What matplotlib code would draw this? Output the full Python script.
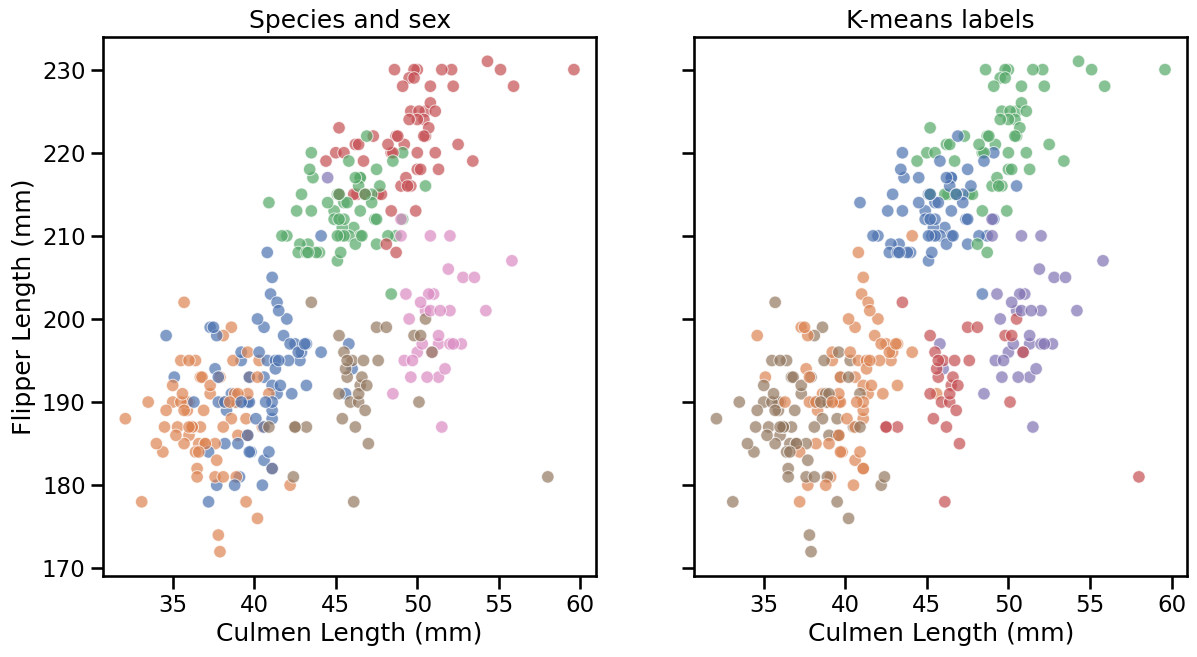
import numpy as np
import pandas as pd
import matplotlib
matplotlib.use("Agg")
import matplotlib.pyplot as plt
import seaborn as sns

# Adelie (rows with missing sex left out)
adelie_culmen = [
    39.1, 39.5, 40.3, 36.7, 39.3, 38.9, 39.2, 41.1, 38.6, 34.6, 36.6, 38.7, 42.5, 34.4, 46.0, 37.8,
    37.7, 35.9, 38.2, 38.8, 35.3, 40.6, 40.5, 37.9, 40.5, 39.5, 37.2, 39.5, 40.9, 36.4, 39.2, 38.8,
    42.2, 37.6, 39.8, 36.5, 40.8, 36.0, 44.1, 37.0, 39.6, 41.1, 36.0, 42.3,
    39.6, 40.1, 35.0, 42.0, 34.5, 41.4, 39.0, 40.6, 36.5, 37.6, 35.7, 41.3, 37.6, 41.1, 36.4, 41.6, 35.5, 41.1,
    35.9, 41.8, 33.5, 39.7, 39.6, 45.8, 35.5, 42.8, 40.9, 37.2, 36.2, 42.1, 34.6, 42.9, 36.7, 35.1,
    37.3, 41.3, 36.3, 36.9, 38.3, 38.9, 35.7, 41.1, 34.0, 39.6, 36.2, 40.8, 38.1, 40.3, 33.1, 43.2,
    35.0, 41.0, 37.7, 37.8, 37.9, 39.7, 38.6, 38.2, 38.1, 43.2, 38.1, 45.6, 39.7, 42.2, 39.6, 42.7,
    38.6, 37.3, 35.7, 41.1, 36.2, 37.7, 40.2, 41.4, 35.2, 40.6, 38.8, 41.5, 39.0, 44.1, 38.5, 43.1,
    36.8, 37.5, 38.1, 41.1, 35.6, 40.2, 37.0, 39.7, 40.2, 40.6, 32.1, 40.7, 37.3, 39.0, 39.2, 36.6,
    36.0, 37.8, 36.0, 41.5,
]
adelie_flipper = [
    181, 186, 195, 193, 190, 181, 195, 182, 191, 198, 185, 195, 197, 184, 194, 174,
    180, 189, 185, 180, 187, 183, 187, 172, 180, 178, 178, 188, 184, 195, 196, 190,
    180, 181, 184, 182, 195, 186, 196, 185, 190, 182, 190, 191,
    186, 188, 190, 200, 187, 191, 186, 193, 181, 194, 185, 195, 185, 192, 184, 192, 195, 188,
    190, 198, 190, 190, 196, 197, 190, 195, 191, 184, 187, 195, 189, 196, 187, 193,
    191, 194, 190, 189, 189, 190, 202, 205, 185, 186, 187, 208, 190, 196, 178, 192,
    192, 203, 183, 190, 193, 184, 199, 190, 181, 197, 198, 191, 193, 197, 191, 196,
    188, 199, 189, 189, 187, 198, 176, 202, 186, 199, 191, 195, 191, 210, 190, 197,
    193, 199, 187, 190, 191, 200, 185, 193, 193, 187, 188, 190, 192, 185, 190, 184,
    195, 193, 187, 201,
]
adelie_sex = (
    "M F F F M F M F M M F F M F M F "
    "M F M M F M F F M F M F M F M M "
    "F F M F M F M F M M F M "
    "F M F M F M F M F M F M F M F M F M "
    "F M F M F M F M F M F M F M F M "
    "F M M F M F F M F M F M F M F M "
    "F M F M F M F M F M F M F M F M "
    "F M F M F M F M F M F M F M F M "
    "F M F M F M F M F M F M F M M F "
    "F M F M"
).split()
adelie_cluster = [
    1, 5, 5, 5, 1, 5, 1, 1, 1, 1, 5, 5, 1, 5, 4, 5,
    1, 5, 1, 1, 5, 1, 5, 5, 1, 5, 1, 5, 1, 5, 1, 1,
    5, 5, 1, 5, 1, 5, 1, 5, 1, 1, 5, 1,
    5, 1, 5, 1, 5, 1, 5, 1, 5, 1, 5, 1, 5, 1, 5, 1, 5, 1,
    5, 1, 5, 1, 5, 4, 5, 1, 5, 1, 5, 1, 5, 1, 5, 1,
    5, 1, 1, 5, 1, 5, 5, 1, 5, 1, 5, 1, 5, 1, 5, 1,
    5, 1, 5, 1, 5, 1, 5, 1, 5, 1, 5, 1, 5, 1, 1, 1,
    5, 1, 5, 1, 5, 1, 5, 1, 5, 1, 5, 1, 5, 1, 5, 1,
    5, 1, 5, 1, 5, 1, 5, 1, 5, 1, 5, 1, 5, 1, 1, 5,
    5, 1, 5, 1,
]

# Gentoo
gentoo_culmen = [
    46.1, 50.0, 48.7, 50.0, 47.6, 46.5, 45.4, 46.7, 43.3, 46.8, 40.9, 49.0, 45.5, 48.4, 45.8, 49.3,
    42.0, 49.2, 46.2, 48.7, 50.2, 45.1, 46.5, 46.3, 42.9, 46.1,
    47.8, 48.2, 50.0, 47.3, 42.8, 45.1, 59.6, 49.1, 48.4, 42.6, 44.4, 44.0, 48.7, 42.7, 49.6, 45.3,
    49.6, 50.5, 43.6, 45.5, 50.5, 44.9, 45.2, 46.6, 48.5, 45.1, 50.1, 46.5, 45.0, 43.8, 45.5, 43.2,
    50.4, 45.3, 46.2, 45.7, 54.3, 45.8, 49.8,
    49.5, 43.5, 50.7, 47.7, 46.4, 48.2, 46.5, 46.4, 48.6, 47.5, 51.1, 45.2, 45.2, 49.1, 52.5, 47.4,
    50.0, 44.9, 50.8, 43.4, 51.3, 47.5, 52.1, 47.5, 52.2, 45.5, 49.5, 44.5, 50.8, 49.4, 46.9, 48.4,
    51.1, 48.5, 55.9, 47.2, 49.1,
    46.8, 41.7, 53.4, 43.3, 48.1, 50.5, 49.8, 43.5, 51.5, 46.2, 55.1, 44.5, 48.8, 47.2, 46.8, 50.4,
    45.2, 49.9,
]
gentoo_flipper = [
    211, 230, 210, 218, 215, 210, 211, 219, 209, 215, 214, 216, 214, 213, 210, 217,
    210, 221, 209, 222, 218, 215, 213, 215, 215, 215,
    215, 210, 220, 222, 209, 207, 230, 220, 220, 213, 219, 208, 208, 208, 225, 210,
    216, 222, 217, 210, 225, 213, 215, 210, 220, 210, 225, 217, 220, 208, 220, 208,
    224, 208, 221, 214, 231, 219, 230,
    229, 220, 223, 216, 221, 221, 217, 216, 230, 209, 220, 215, 223, 212, 221, 212,
    224, 212, 228, 218, 218, 212, 230, 218, 228, 212, 224, 214, 226, 216, 222, 203,
    225, 219, 228, 215, 228,
    215, 210, 219, 208, 209, 216, 229, 213, 230, 217, 230, 217, 222, 214, 215, 222,
    212, 213,
]
gentoo_sex = (
    "F M F M M F F M F M F M F M F M "
    "F M F M M F F M F M "
    "M F M M F F M F M F M F M F M F "
    "M M F F M F M F M F M F M F M F "
    "M F M F M F M "
    "M F M F M M F F M F M F M F M F "
    "M F M F M F M F M F M F M M F F "
    "M F M F M "
    "M F M F M F M F M F M . M F F M "
    "F M"
).split()
gentoo_cluster = [
    0, 2, 0, 2, 2, 0, 0, 2, 0, 2, 0, 2, 0, 2, 0, 2,
    0, 2, 0, 2, 2, 0, 0, 2, 0, 2,
    2, 0, 2, 2, 0, 0, 2, 0, 2, 0, 2, 0, 2, 0, 2, 0,
    2, 2, 0, 0, 2, 0, 2, 0, 2, 0, 2, 0, 2, 0, 2, 0,
    2, 0, 2, 0, 2, 0, 2,
    2, 0, 2, 0, 2, 2, 0, 0, 2, 0, 2, 0, 2, 0, 2, 0,
    2, 0, 2, 0, 2, 0, 2, 0, 2, 0, 2, 0, 2, 2, 0, 0,
    2, 0, 2, 0, 2,
    2, 0, 2, 0, 2, 0, 2, 0, 2, 0, 2, 0, 2, 0, 0, 2,
    0, 2,
]

# Chinstrap
chinstrap_culmen = [
    46.5, 50.0, 51.3, 45.4, 52.7, 45.2, 46.1, 51.3, 46.0, 51.3, 46.6, 51.7, 47.0, 52.0, 45.9, 50.5, 50.3,
    58.0, 46.4, 49.2, 42.4, 48.5, 43.2, 50.6, 46.7, 52.0, 50.5, 49.5, 46.4, 52.8, 40.9, 54.2, 42.5, 51.0,
    49.7, 47.5, 47.6, 52.0, 46.9, 53.5, 49.0, 46.2, 50.9, 45.5, 50.9, 50.8, 50.1, 49.0, 51.5, 49.8, 48.1,
    51.4, 45.7, 50.7, 42.5, 52.2, 45.2, 49.3, 50.2, 45.6, 51.9, 46.8, 45.7, 55.8, 43.5, 49.6, 50.8, 50.2,
]
chinstrap_flipper = [
    192, 196, 193, 188, 197, 198, 178, 197, 195, 198, 193, 194, 185, 201, 190, 201, 197,
    181, 190, 195, 181, 191, 187, 193, 195, 197, 200, 200, 191, 205, 187, 201, 187, 203,
    195, 199, 195, 210, 192, 205, 210, 187, 196, 196, 196, 201, 190, 212, 187, 198, 199,
    201, 193, 203, 187, 197, 191, 203, 202, 194, 206, 189, 195, 207, 202, 193, 210, 198,
]
chinstrap_sex = (
    "F M M F M F F M F M F M F M F M M "
    "F F M F M F M F M F M F M F M F M "
    "M F F M F M M F M F F M F M M F F "
    "M F M F M F M M F M F F M F M M F"
).split()
chinstrap_cluster = [
    3, 4, 4, 3, 4, 3, 3, 4, 3, 4, 3, 4, 3, 4, 3, 4, 4,
    3, 3, 4, 5, 4, 3, 4, 3, 4, 3, 4, 3, 4, 5, 4, 3, 4,
    4, 3, 3, 4, 3, 4, 4, 3, 4, 3, 3, 4, 3, 4, 4, 3, 3,
    4, 3, 4, 3, 4, 3, 4, 4, 3, 4, 3, 3, 4, 3, 4, 4, 3,
]

sex_names = {"M": "MALE", "F": "FEMALE", ".": "."}

frames = []
for name, culmen, flipper, sex, cluster in [
    ("Adelie", adelie_culmen, adelie_flipper, adelie_sex, adelie_cluster),
    ("Gentoo", gentoo_culmen, gentoo_flipper, gentoo_sex, gentoo_cluster),
    ("Chinstrap", chinstrap_culmen, chinstrap_flipper, chinstrap_sex, chinstrap_cluster),
]:
    frames.append(pd.DataFrame({
        "culmen_length_mm": culmen,
        "flipper_length_mm": flipper,
        "species_sex": [name + " " + sex_names[s] for s in sex],
        "cluster": [str(c) for c in cluster],
    }))
penguins = pd.concat(frames, ignore_index=True)

sns.set_context("talk")

fig, axes = plt.subplots(1, 2, figsize=(11.97, 6.57), dpi=100, sharey=True)

sns.scatterplot(data=penguins, x="culmen_length_mm", y="flipper_length_mm",
                hue="species_sex", palette="deep", alpha=0.7, legend=False, ax=axes[0])
axes[0].set_title("Species and sex")
axes[0].set_xlabel("Culmen Length (mm)")
axes[0].set_ylabel("Flipper Length (mm)")

sns.scatterplot(data=penguins, x="culmen_length_mm", y="flipper_length_mm",
                hue="cluster", hue_order=["0", "1", "2", "3", "4", "5"],
                palette="deep", alpha=0.7, legend=False, ax=axes[1])
axes[1].set_title("K-means labels")
axes[1].set_xlabel("Culmen Length (mm)")
axes[1].set_ylabel("")

fig.subplots_adjust(left=0.086, right=0.992, bottom=0.123, top=0.944, wspace=0.198)
fig.savefig("out.png", dpi=100)
